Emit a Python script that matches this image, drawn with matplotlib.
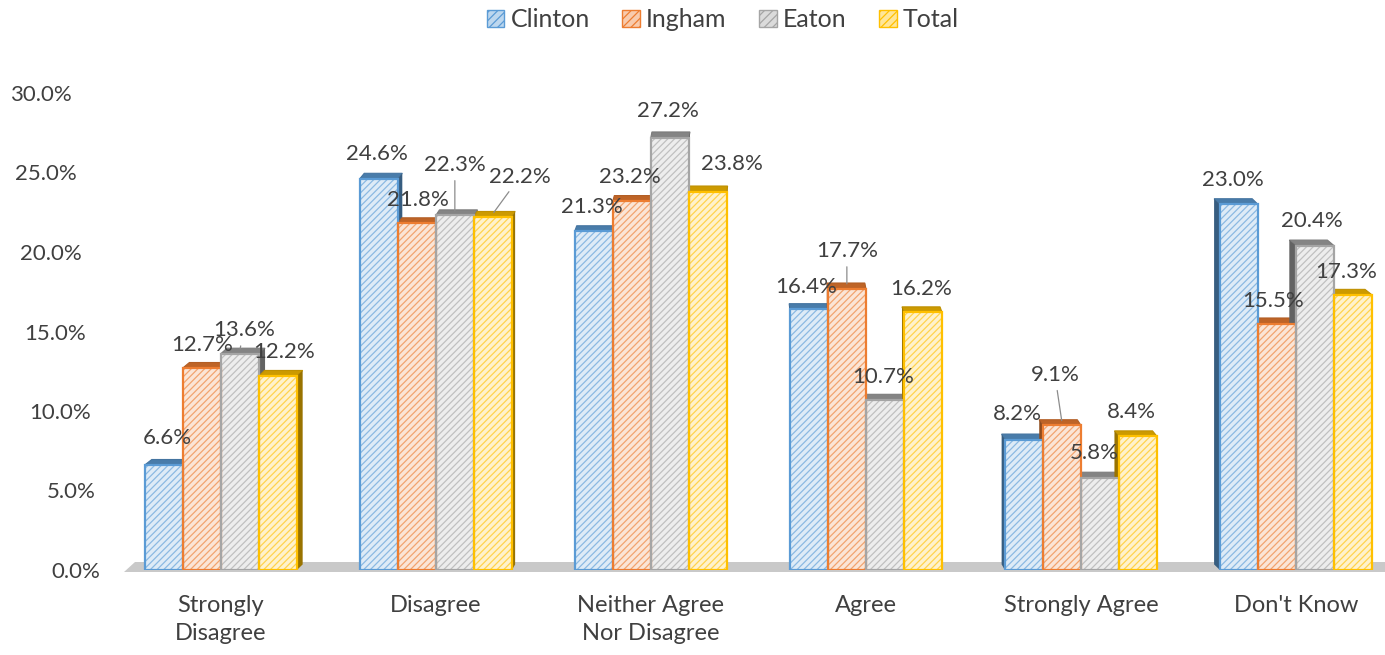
import numpy as np
import matplotlib
matplotlib.use("Agg")
import matplotlib.pyplot as plt
import matplotlib.colors as mcolors
from matplotlib.patches import Polygon, Patch
from matplotlib.transforms import ScaledTranslation

# ---- data ----
categories = ["Strongly\nDisagree", "Disagree", "Neither Agree\nNor Disagree",
              "Agree", "Strongly Agree", "Don't Know"]
series = ["Clinton", "Ingham", "Eaton", "Total"]
clinton = [6.6, 24.6, 21.3, 16.4, 8.2, 23.0]
ingham = [12.7, 21.8, 23.2, 17.7, 9.1, 15.5]
eaton = [13.6, 22.3, 27.2, 10.7, 5.8, 20.4]
total = [12.2, 22.2, 23.8, 16.2, 8.4, 17.3]
yticks = [0, 5, 10, 15, 20, 25, 30]

# ---- style ----
colors = ["#5B9BD5", "#ED7D31", "#A5A5A5", "#FFC000"]
TXT = "#404040"
plt.rcParams["font.family"] = ["Lato", "DejaVu Sans"]
plt.rcParams["hatch.linewidth"] = 0.9

# label offsets in pixels (dx, dy) from bar top centre, per category / series
label_off = [
    [(4, 24), (0, 20), (4, 20), (6, 21)],
    [(-2, 22), (1, 20), (0, 47), (27, 37)],
    [(-2, 21), (-2, 21), (-2, 23), (24, 24)],
    [(-3, 19), (0, 34), (-2, 20), (-2, 20)],
    [(-6, 22), (-7, 47), (-6, 21), (-7, 21)],
    [(-6, 21), (-4, 19), (-3, 21), (-7, 20)],
]
leaders = {(0, 2), (1, 2), (1, 3), (3, 1), (4, 1)}


def tint(c, f):
    r = np.array(mcolors.to_rgb(c))
    return tuple(r + (1 - r) * f)


def shade(c, f):
    return tuple(np.array(mcolors.to_rgb(c)) * f)


fig = plt.figure(figsize=(13.85, 6.55), dpi=100)
ax = fig.add_axes([124 / 1385, 85 / 655, 1258 / 1385, 477 / 655])

values = [clinton, ingham, eaton, total]
x = np.arange(len(categories))
w = 0.177
xc = 2.5
dy = 0.35

# floor slab
floor = Polygon([(-0.45, -0.12), (5.42, -0.12), (5.42, 0.5), (-0.40, 0.5)],
                closed=True, facecolor="#c9c9c9", edgecolor="none", zorder=1, clip_on=False)
ax.add_patch(floor)

for j, (name, vals, col) in enumerate(zip(series, values, colors)):
    xs = x + (j - 1.5) * w
    # depth faces (top and inner side)
    for xi, v in zip(xs, vals):
        x0, x1 = xi - w / 2, xi + w / 2
        dx = 0.03 * (xc - xi) / xc
        top = Polygon([(x0, v), (x1, v), (x1 + dx, v + dy), (x0 + dx, v + dy)],
                      closed=True, facecolor=shade(col, 0.8), edgecolor=shade(col, 0.75),
                      lw=0.8, zorder=2)
        ax.add_patch(top)
        sx = x1 if dx > 0 else x0
        side = Polygon([(sx, 0), (sx, v), (sx + dx, v + dy), (sx + dx, dy)],
                       closed=True, facecolor=shade(col, 0.6), edgecolor="none", zorder=2)
        ax.add_patch(side)
    ax.bar(xs, vals, w, facecolor=tint(col, 0.8), edgecolor=tint(col, 0.3),
           hatch="/////", lw=0, zorder=3)
    ax.bar(xs, vals, w, fill=False, edgecolor=col, lw=1.6, zorder=4)
    for i, (xi, v) in enumerate(zip(xs, vals)):
        ox, oy = label_off[i][j]
        ap = None
        if (i, j) in leaders:
            ap = dict(arrowstyle="-", color="#8c8c8c", lw=0.9, shrinkA=2, shrinkB=1)
        ax.annotate(f"{v:.1f}%", xy=(xi, v + dy * 0.6), xytext=(ox, oy),
                    textcoords="offset pixels", ha="center", va="center",
                    fontsize=16, color=TXT, zorder=6, arrowprops=ap)

ax.set_xlim(-0.45, 5.4)
ax.set_ylim(0, 30)
ax.set_xticks(x)
ax.set_xticklabels(categories, fontsize=17, color=TXT, linespacing=1.4)
ax.set_yticks(yticks)
ax.set_yticklabels([f"{t:.1f}%" for t in yticks], fontsize=16, color=TXT)
ax.tick_params(axis="x", length=0, pad=18)
ax.tick_params(axis="y", length=0, pad=17)
# labels lean inward as they rise, like a perspective wall
for t, lab in zip(yticks, ax.get_yticklabels()):
    lab.set_transform(lab.get_transform() + ScaledTranslation(-t * 0.0095, 0, fig.dpi_scale_trans))
for s in ax.spines.values():
    s.set_visible(False)

handles = [Patch(facecolor=tint(c, 0.6), edgecolor=c, hatch="////", lw=1.0) for c in colors]
fig.legend(handles, series, loc="center", bbox_to_anchor=(0.522, 0.97), ncol=4,
           frameon=False, fontsize=18, handlelength=0.7, handleheight=0.7,
           handletextpad=0.25, columnspacing=1.3, labelcolor=TXT)

fig.savefig("out.png", dpi=100)
